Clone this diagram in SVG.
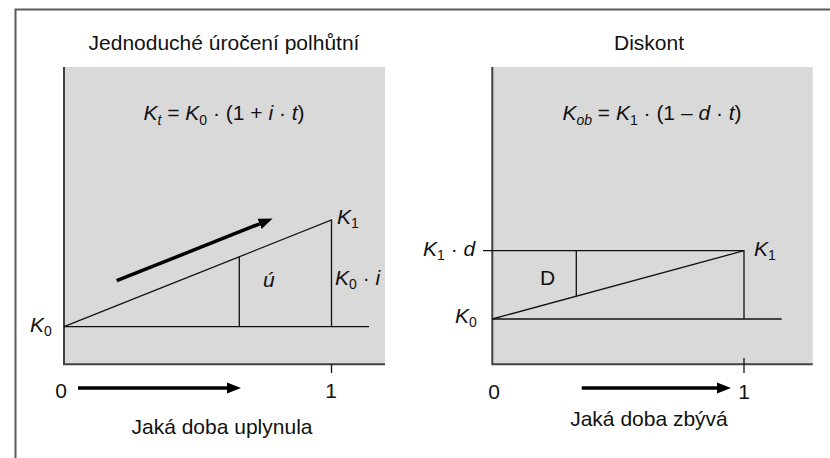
<svg xmlns="http://www.w3.org/2000/svg" width="830" height="458" viewBox="0 0 830 458">
<style>
.t{font-family:"Liberation Sans",Arial,sans-serif;font-size:21px;fill:#111}
.i{font-style:italic}
.s{font-size:14px}
.bg{fill:#d9d9d9}
.ax{stroke:#404040;stroke-width:2;fill:none}
.ln{stroke:#111;stroke-width:1.3;fill:none}
.ar{stroke:#000;stroke-width:3.5;fill:none}
.fr{stroke:#5a5a5a;stroke-width:2;fill:none}
</style>
<defs>
<marker id="ah" markerUnits="userSpaceOnUse" markerWidth="15" markerHeight="12" refX="0" refY="6" orient="auto">
<path d="M0,0.5 L14,6 L0,11.5 z" fill="#000"/>
</marker>
</defs>
<rect width="830" height="458" fill="#fff"/>
<path class="fr" d="M15.5,458 V9.5 H830"/>

<g id="left-panel">
<rect class="bg" x="64" y="67" width="321" height="297"/>
<text class="t" x="224" y="50" text-anchor="middle">Jednoduché úročení polhůtní</text>
<text class="t" x="224" y="120" text-anchor="middle"><tspan class="i">K</tspan><tspan class="i s" dy="5">t</tspan><tspan dy="-5"> = </tspan><tspan class="i">K</tspan><tspan class="s" dy="5">0</tspan><tspan dy="-5"> · (1 + </tspan><tspan class="i">i</tspan><tspan> · </tspan><tspan class="i">t</tspan><tspan>)</tspan></text>
</g>

<g id="left-axes">
<path class="ax" d="M64,67 V364.3 H385"/>
<path class="ln" d="M331.5,364.3 V373"/>
</g>

<g id="left-graph">
<path class="ln" d="M64,326.7 H369"/>
<path class="ln" d="M64,326.7 L331.5,220 V326.7"/>
<path class="ln" d="M239.3,256.8 V326.7"/>
<text class="t i" x="337" y="224">K<tspan class="s" dy="4" font-style="normal">1</tspan></text>
<text class="t" x="335" y="285"><tspan class="i">K</tspan><tspan class="s" dy="4">0</tspan><tspan dy="-4"> · </tspan><tspan class="i">i</tspan></text>
<text class="t i" x="263" y="287">ú</text>
<text class="t" x="30" y="332"><tspan class="i">K</tspan><tspan class="s" dy="4">0</tspan></text>
<text class="t" x="61" y="398" text-anchor="middle">0</text>
<text class="t" x="331" y="398" text-anchor="middle">1</text>
<text class="t" x="222" y="434" text-anchor="middle">Jaká doba uplynula</text>
</g>

<g id="connectors">
<path class="ar" d="M116.7,280.7 L259.6,223.8" marker-end="url(#ah)"/>
<path class="ar" d="M78,388 H227" marker-end="url(#ah)"/>
<path class="ar" d="M581.7,388 H717" marker-end="url(#ah)"/>
</g>

<g id="right-panel">
<rect class="bg" x="492.3" y="67" width="320.4" height="297"/>
<text class="t" x="649" y="50" text-anchor="middle">Diskont</text>
<text class="t" x="652" y="120" text-anchor="middle"><tspan class="i">K</tspan><tspan class="i s" dy="5">ob</tspan><tspan dy="-5"> = </tspan><tspan class="i">K</tspan><tspan class="s" dy="5">1</tspan><tspan dy="-5"> · (1 – </tspan><tspan class="i">d</tspan><tspan> · </tspan><tspan class="i">t</tspan><tspan>)</tspan></text>
</g>

<g id="right-axes">
<path class="ax" d="M492.3,67 V364.3 H812.7"/>
<path class="ln" d="M744,358 V373"/>
</g>

<g id="right-graph">
<path class="ln" d="M483,250.7 H744 V319"/>
<path class="ln" d="M492.3,319 H781.7"/>
<path class="ln" d="M492.3,319 L744,250.7"/>
<path class="ln" d="M576.3,250.7 V296.2"/>
<text class="t" x="423" y="256"><tspan class="i">K</tspan><tspan class="s" dy="4">1</tspan><tspan dy="-4"> · </tspan><tspan class="i">d</tspan></text>
<text class="t" x="754" y="256"><tspan class="i">K</tspan><tspan class="s" dy="4">1</tspan></text>
<text class="t" x="540" y="285">D</text>
<text class="t" x="455" y="323"><tspan class="i">K</tspan><tspan class="s" dy="4">0</tspan></text>
<text class="t" x="494" y="399" text-anchor="middle">0</text>
<text class="t" x="744" y="399" text-anchor="middle">1</text>
<text class="t" x="649" y="426" text-anchor="middle">Jaká doba zbývá</text>
</g>
</svg>
